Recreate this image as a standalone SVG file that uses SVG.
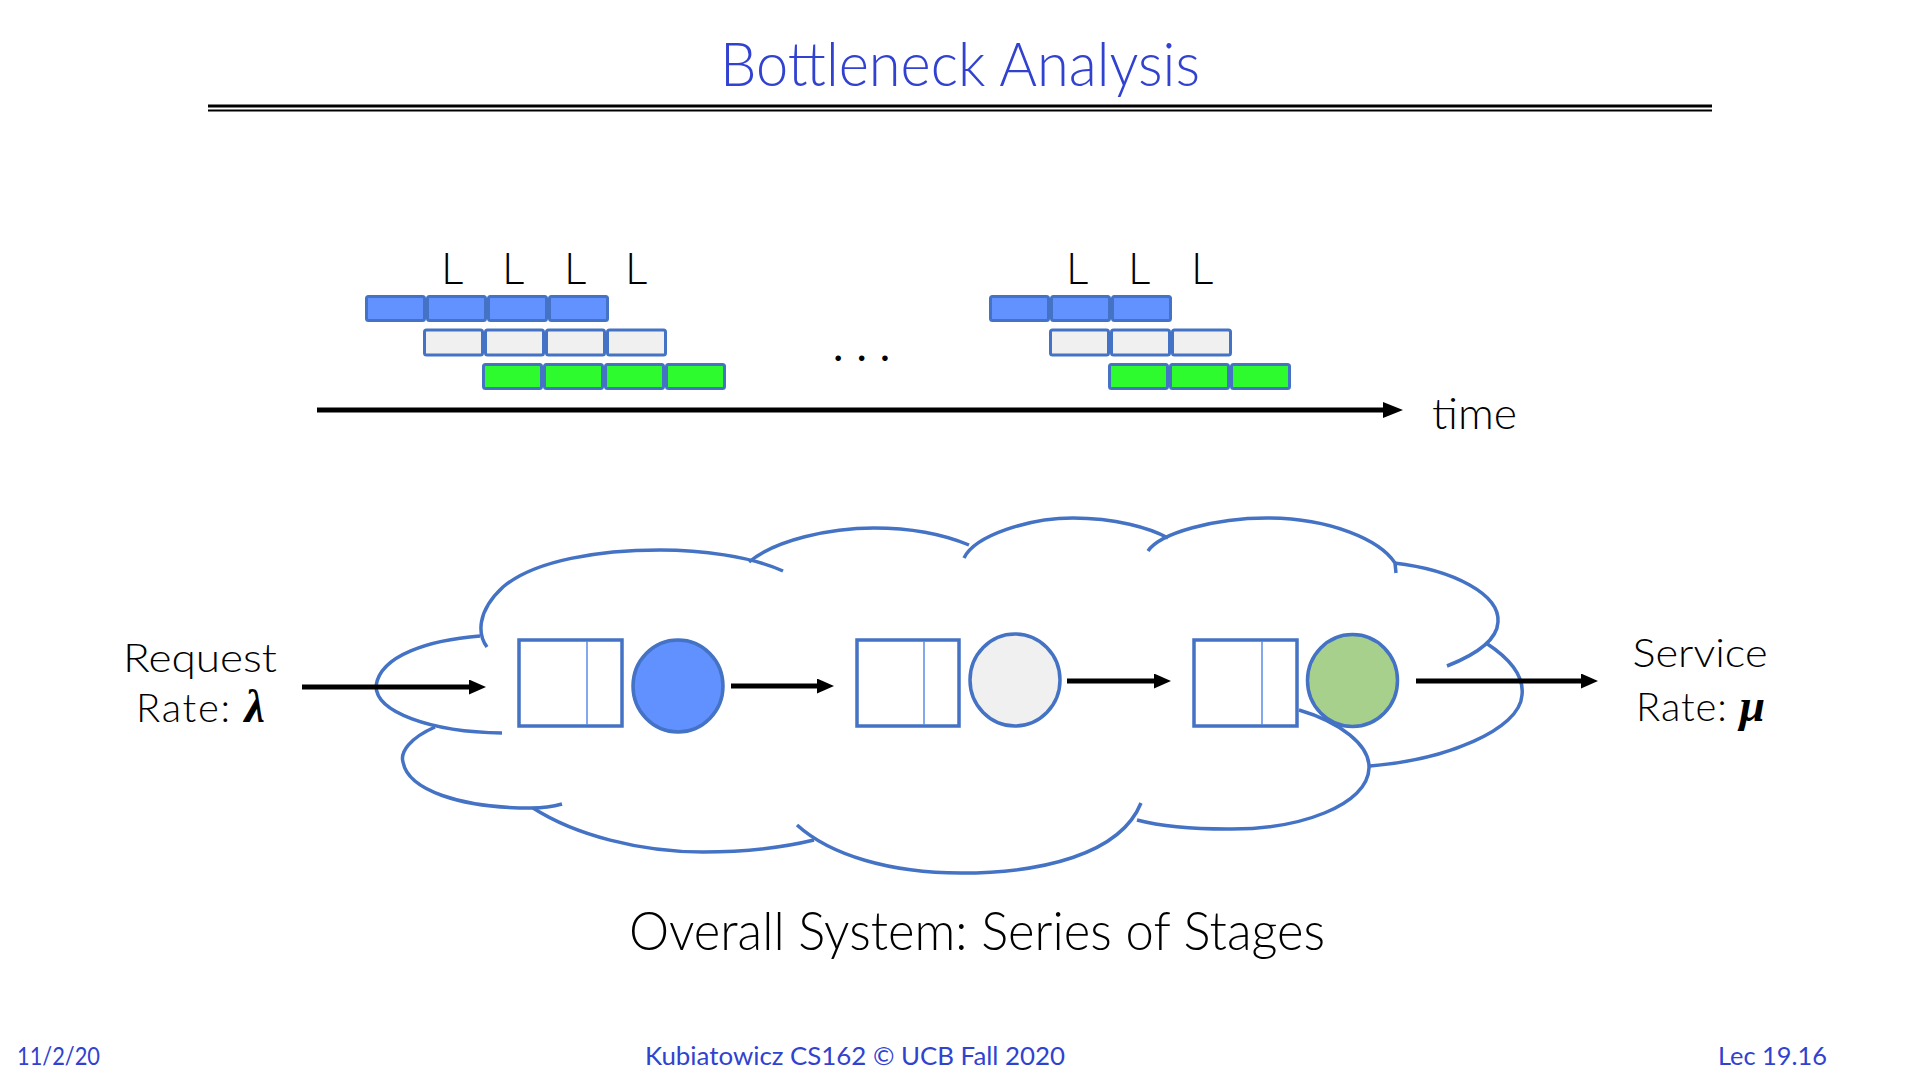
<svg xmlns="http://www.w3.org/2000/svg" width="1920" height="1080" viewBox="0 0 1920 1080">
<defs>
<style>
.txt { font-family: Lato, "Open Sans", "Liberation Sans", sans-serif; fill: #000; }
.blue-t { font-family: Lato, "Open Sans", "Liberation Sans", sans-serif; fill: #3142D1; }
.greek { font-family: "Liberation Serif", "DejaVu Serif", serif; font-style: italic; font-weight: bold; font-size: 46px; }
.cell { stroke: #4472C4; stroke-width: 3; }
.cb { fill: #6192FF; }
.cg { fill: #F0F0F0; }
.cn { fill: #2EFB2E; }
.cloud { fill: none; stroke: #4472C4; stroke-width: 3.5; }
.box { fill: #FFFFFF; stroke: #4472C4; stroke-width: 3.5; }
.div { stroke: #5B8BE8; stroke-width: 1.5; }
.srv { stroke: #4472C4; stroke-width: 3.5; }
.arr { stroke: #000; stroke-width: 5; fill: none; }
</style>
<marker id="ah" viewBox="0 0 17 15" markerWidth="17" markerHeight="15" markerUnits="userSpaceOnUse" refX="4" refY="7.5" orient="auto">
<path d="M0,0 L17,7.5 L0,15 z" fill="#000"/>
</marker>
<marker id="ahL" viewBox="0 0 20 16" markerWidth="20" markerHeight="16" markerUnits="userSpaceOnUse" refX="4" refY="8" orient="auto">
<path d="M0,0 L20,8 L0,16 z" fill="#000"/>
</marker>
</defs>
<rect width="1920" height="1080" fill="#FFFFFF"/>

<g id="title">
<text class="blue-t" x="960" y="86" font-size="62" font-weight="300" text-anchor="middle" textLength="480" lengthAdjust="spacingAndGlyphs">Bottleneck Analysis</text>
<line x1="208" y1="106" x2="1712" y2="106" stroke="#000" stroke-width="3"/>
<line x1="208" y1="110.5" x2="1712" y2="110.5" stroke="#000" stroke-width="2"/>
</g>

<g id="pipeline1">
<g class="cell cb">
<rect x="366.5" y="296.5" width="58" height="24" rx="2"/>
<rect x="427.5" y="296.5" width="58" height="24" rx="2"/>
<rect x="488.5" y="296.5" width="58" height="24" rx="2"/>
<rect x="549.5" y="296.5" width="58" height="24" rx="2"/>
</g>
<g class="cell cg">
<rect x="424.5" y="330" width="58" height="25" rx="2"/>
<rect x="485.5" y="330" width="58" height="25" rx="2"/>
<rect x="546.5" y="330" width="58" height="25" rx="2"/>
<rect x="607.5" y="330" width="58" height="25" rx="2"/>
</g>
<g class="cell cn">
<rect x="483.5" y="364.5" width="58" height="24" rx="2"/>
<rect x="544.5" y="364.5" width="58" height="24" rx="2"/>
<rect x="605.5" y="364.5" width="58" height="24" rx="2"/>
<rect x="666.5" y="364.5" width="58" height="24" rx="2"/>
</g>
<g class="txt" font-size="44" font-weight="300">
<text x="441" y="284">L</text>
<text x="502" y="284">L</text>
<text x="564" y="284">L</text>
<text x="625" y="284">L</text>
</g>
</g>

<g id="ellipsis">
<text class="txt" x="833" y="361" font-size="44" letter-spacing="13">...</text>
</g>

<g id="pipeline2">
<g class="cell cb">
<rect x="990.5" y="296.5" width="58" height="24" rx="2"/>
<rect x="1051.5" y="296.5" width="58" height="24" rx="2"/>
<rect x="1112.5" y="296.5" width="58" height="24" rx="2"/>
</g>
<g class="cell cg">
<rect x="1050.5" y="330" width="58" height="25" rx="2"/>
<rect x="1111.5" y="330" width="58" height="25" rx="2"/>
<rect x="1172.5" y="330" width="58" height="25" rx="2"/>
</g>
<g class="cell cn">
<rect x="1109.5" y="364.5" width="58" height="24" rx="2"/>
<rect x="1170.5" y="364.5" width="58" height="24" rx="2"/>
<rect x="1231.5" y="364.5" width="58" height="24" rx="2"/>
</g>
<g class="txt" font-size="44" font-weight="300">
<text x="1066" y="284">L</text>
<text x="1128" y="284">L</text>
<text x="1191" y="284">L</text>
</g>
</g>

<g id="time-label">
<text class="txt" x="1432" y="429" font-size="44" font-weight="300" textLength="85" lengthAdjust="spacingAndGlyphs">time</text>
</g>

<g id="cloud" class="cloud">
<path d="M480,636 C430,640 380,655 376,686 C376,712 430,732 502,733"/>
<path d="M487,647 C478,635 476,612 503,587 C535,560 600,550 660,550 C700,550 750,556 783,571"/>
<path d="M749,562 C775,540 830,528 874,528 C915,528 945,535 969,545"/>
<path d="M964,558 C975,535 1030,518 1073,518 C1115,518 1150,528 1168,538"/>
<path d="M1148,551 C1160,533 1215,518 1267,518 C1330,518 1380,540 1395,563 L1396,573"/>
<path d="M1394,563 C1455,570 1500,595 1498,622 C1497,640 1475,655 1447,666"/>
<path d="M1486,643 C1512,660 1524,678 1522,695 C1520,730 1445,760 1370,766"/>
<path d="M1299,710 C1340,722 1370,745 1369,768 C1368,805 1300,830 1227,829 C1190,829 1160,826 1137,820"/>
<path d="M1141,803 C1120,855 1040,873 961,873 C890,873 830,855 797,825"/>
<path d="M533,808 C575,835 640,852 703,852 C750,852 785,847 814,840"/>
<path d="M435,727 C410,738 400,752 403,762 C408,790 460,808 531,808 C545,808 555,806 562,804"/>
</g>

<g id="connectors">
<line class="arr" x1="317" y1="410" x2="1387" y2="410" marker-end="url(#ahL)"/>
<line class="arr" x1="302" y1="687" x2="473" y2="687" marker-end="url(#ah)"/>
<line class="arr" x1="731" y1="686" x2="821" y2="686" marker-end="url(#ah)"/>
<line class="arr" x1="1067" y1="681" x2="1158" y2="681" marker-end="url(#ah)"/>
<line class="arr" x1="1416" y1="681" x2="1585" y2="681" marker-end="url(#ah)"/>
</g>

<g id="stage1">
<rect class="box" x="519" y="640" width="103" height="86"/>
<line class="div" x1="587" y1="641" x2="587" y2="725"/>
<ellipse class="srv" cx="678" cy="686" rx="45" ry="46" fill="#6190FF"/>
</g>
<g id="stage2">
<rect class="box" x="857" y="640" width="102" height="86"/>
<line class="div" x1="924" y1="641" x2="924" y2="725"/>
<ellipse class="srv" cx="1015" cy="680" rx="45" ry="46" fill="#F0F0F0"/>
</g>
<g id="stage3">
<rect class="box" x="1194" y="640" width="103" height="86"/>
<line class="div" x1="1262" y1="641" x2="1262" y2="725"/>
<ellipse class="srv" cx="1352.5" cy="680.5" rx="45" ry="46" fill="#A8D08D"/>
</g>

<g id="request-label" class="txt" font-size="40" font-weight="300">
<text x="200" y="672" text-anchor="middle" textLength="154" lengthAdjust="spacingAndGlyphs">Request</text>
<text x="136" y="722" textLength="129" lengthAdjust="spacing">Rate: <tspan class="greek">λ</tspan></text>
</g>

<g id="service-label" class="txt" font-size="40" font-weight="300">
<text x="1700" y="667" text-anchor="middle" textLength="135" lengthAdjust="spacingAndGlyphs">Service</text>
<text x="1636" y="721" textLength="129" lengthAdjust="spacing">Rate: <tspan class="greek">μ</tspan></text>
</g>

<g id="caption">
<text class="txt" x="977" y="950" font-size="53" font-weight="300" text-anchor="middle" textLength="696" lengthAdjust="spacingAndGlyphs">Overall System: Series of Stages</text>
</g>

<g id="footer" class="blue-t" font-size="25">
<text x="17" y="1065" textLength="83" lengthAdjust="spacingAndGlyphs">11/2/20</text>
<text x="645" y="1065" textLength="420" lengthAdjust="spacingAndGlyphs">Kubiatowicz CS162 © UCB Fall 2020</text>
<text x="1718" y="1065" textLength="109" lengthAdjust="spacingAndGlyphs">Lec 19.16</text>
</g>
</svg>
